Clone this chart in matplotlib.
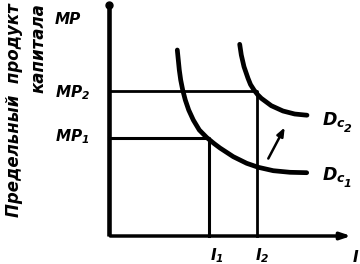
import matplotlib
matplotlib.use("Agg")
import matplotlib.pyplot as plt

plt.rcParams['mathtext.fontset'] = 'custom'
plt.rcParams['mathtext.rm'] = 'DejaVu Sans:bold:italic'
plt.rcParams['mathtext.it'] = 'DejaVu Sans:bold:italic'
plt.rcParams['mathtext.bf'] = 'DejaVu Sans:bold:italic'

# Data (conceptual units)
I1, I2 = 10.0, 14.8
MP1, MP2 = 9.85, 14.5
dc1_x = [6.83, 6.93, 7.03, 7.17, 7.37, 7.63, 7.97, 8.43, 9.03, 9.77, 10.5,
         11.1, 12.43, 13.77, 14.93, 16.43, 18.1, 19.77]
dc1_y = [18.6, 17.6, 16.6, 15.6, 14.6, 13.6, 12.6, 11.6, 10.6, 9.85, 9.25,
         8.8, 7.93, 7.27, 6.87, 6.53, 6.37, 6.33]
dc2_x = [13.07, 13.23, 13.5, 13.9, 14.15, 14.5, 14.85, 15.23, 16.23, 17.4,
         18.57, 19.57, 19.8]
dc2_y = [19.17, 18.1, 16.93, 15.77, 15.15, 14.6, 14.15, 13.77, 13.03, 12.5,
         12.2, 12.1, 12.08]
shift_from = (15.8, 7.5)
shift_to = (17.7, 11.1)
x_max, y_max = 24.5, 23.1

fig = plt.figure(figsize=(3.6, 2.64), dpi=100)
ax = fig.add_axes([0, 0, 1, 1])
ax.set_xlim(-10.9, 25.1)
ax.set_ylim(-2.8, 23.6)
ax.axis('off')

k = 'black'
# axes
ax.plot([0, 0], [0, y_max], color=k, lw=3.3, solid_capstyle='butt')
ax.plot([0], [y_max], 'o', color=k, ms=5)
ax.annotate('', xy=(x_max, 0), xytext=(-0.15, 0),
            arrowprops=dict(arrowstyle='-|>,head_length=0.6,head_width=0.2', color=k, lw=2.5))

# guide lines
ax.plot([0, I2, I2], [MP2, MP2, 0], color=k, lw=2)
ax.plot([0, I1, I1], [MP1, MP1, 0], color=k, lw=2.2)

# curves
ax.plot(dc1_x, dc1_y, color=k, lw=3.4, solid_capstyle='round', solid_joinstyle='round')
ax.plot(dc2_x, dc2_y, color=k, lw=3.4, solid_capstyle='round', solid_joinstyle='round')

# shift arrow
ax.annotate('', xy=shift_to, xytext=shift_from,
            arrowprops=dict(arrowstyle='-|>,head_length=0.5,head_width=0.2', color=k, lw=1.8))

tk = dict(color=k, fontweight='bold', style='italic', family='DejaVu Sans')
ax.text(-5.4, 21.2, 'MP', ha='left', va='baseline', fontsize=11, **tk)
ax.text(-5.4, 13.9, r'$MP_2$', ha='left', va='baseline', fontsize=11, **tk)
ax.text(-5.4, 9.45, r'$MP_1$', ha='left', va='baseline', fontsize=11, **tk)

def dlabel(y, sub):
    ax.text(21.4, y, 'D', ha='left', va='baseline', fontsize=12.5, **tk)
    ax.annotate('c', xy=(21.4, y), xytext=(9.8, -1.5), textcoords='offset points',
                ha='left', va='baseline', fontsize=9, **tk)
    ax.annotate(sub, xy=(21.4, y), xytext=(14.8, -5), textcoords='offset points',
                ha='left', va='baseline', fontsize=8, **tk)

dlabel(11.1, '2')
dlabel(5.6, '1')

ax.text(10.1, -2.4, r'$I_1$', ha='left', va='baseline', fontsize=11, **tk)
ax.text(14.6, -2.4, r'$I_2$', ha='left', va='baseline', fontsize=11, **tk)
ax.text(25.05, -2.6, r'$I$', ha='right', va='baseline', fontsize=11, **tk)

ax.text(-10.4, 23.3, 'Предельный  продукт\nкапитала', rotation=90,
        ha='left', va='top', multialignment='right', linespacing=1.45,
        fontsize=12, **tk)

fig.savefig('out.png', dpi=100)
